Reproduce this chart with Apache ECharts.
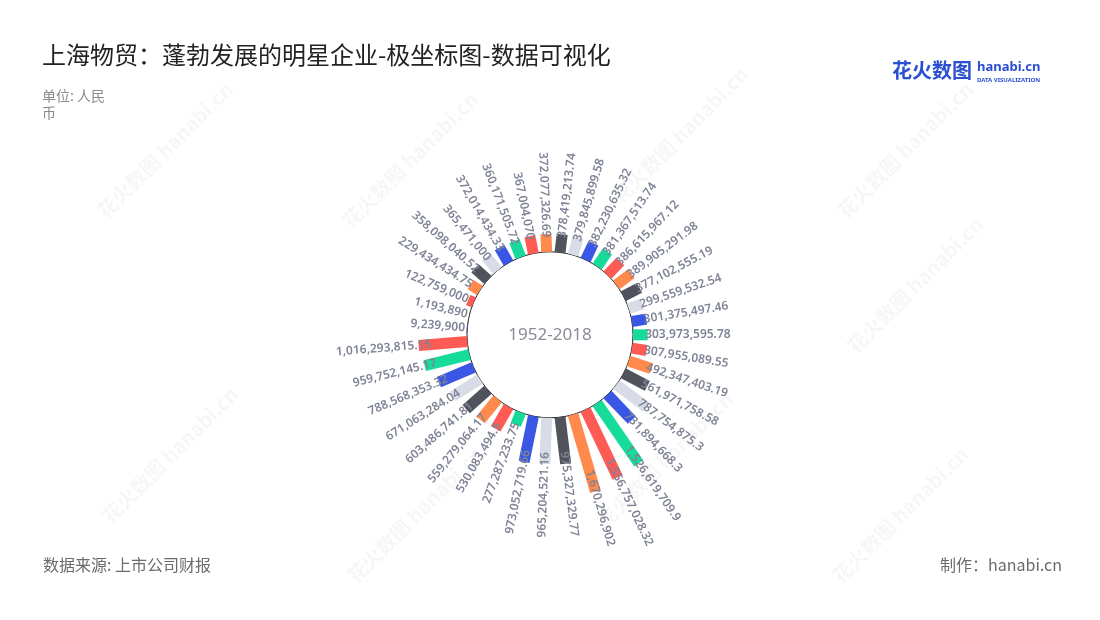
<!DOCTYPE html>
<html>
<head>
<meta charset="utf-8">
<script src="https://cdn.jsdelivr.net/npm/echarts@6/dist/echarts.min.js"></script>
<style>html,body{margin:0;padding:0;background:#fff}#main{width:1100px;height:620px}</style>
</head>
<body>
<div id="main"></div>
<script>
// ---- data (clockwise, starting at 9 o'clock) ----
const values = [9239900, 1193890, 122759000, 229434434.75, 358098040.52, 365471000,
  372014434.33, 360171505.72, 367004070, 372077326.69, 378419213.74, 379845899.58,
  382230635.32, 381367513.74, 386615967.12, 389905291.98, 377102555.19, 299559532.54,
  301375497.46, 303973595.78, 307955089.55, 492347403.19, 561971758.58, 787754875.3,
  731894668.3, 1526619709.9, 1556757028.32, 1670296902, 975327329.77, 965204521.16,
  973052719.66, 277287233.75, 530083494.5, 559279064.17, 603486741.81, 671063284.04,
  788568353.32, 959752145.17, 1016293815.15];
const labels = ['9,239,900', '1,193,890', '122,759,000', '229,434,434.75', '358,098,040.52', '365,471,000',
  '372,014,434.33', '360,171,505.72', '367,004,070', '372,077,326.69', '378,419,213.74', '379,845,899.58',
  '382,230,635.32', '381,367,513.74', '386,615,967.12', '389,905,291.98', '377,102,555.19', '299,559,532.54',
  '301,375,497.46', '303,973,595.78', '307,955,089.55', '492,347,403.19', '561,971,758.58', '787,754,875.3',
  '731,894,668.3', '1,526,619,709.9', '1,556,757,028.32', '1,670,296,902', '975,327,329.77', '965,204,521.16',
  '973,052,719.66', '277,287,233.75', '530,083,494.5', '559,279,064.17', '603,486,741.81', '671,063,284.04',
  '788,568,353.32', '959,752,145.17', '1,016,293,815.15'];
const categories = values.map((_, i) => 'c' + i);
const palette = ['#3a56e4', '#17db9b', '#ff5b55', '#ff8a4c', '#50525c', '#d8dce6'];
const centerLabel = '1952-2018';
const titleText = '上海物贸：蓬勃发展的明星企业-极坐标图-数据可视化';
const unitText = '单位: 人民\n币';
const sourceText = '数据来源: 上市公司财报';
const makerText = '制作：hanabi.cn';

const FONT = "'Noto Sans', 'Noto Sans CJK SC', sans-serif";
const CJK = "'Noto Sans CJK SC', 'Noto Sans', sans-serif";
const chart = echarts.init(document.getElementById('main'), null, {renderer: 'canvas'});

const seriesData = values.map((v, i) => [v, i]);

function renderItem(params, api) {
  const v = api.value(0);
  const idx = api.value(1);
  const cs = params.coordSys;
  const p0 = api.coord([0, idx]);
  const p1 = api.coord([v, idx]);
  const pl = api.coord([v * 0.7 + 40000000, idx]);
  const theta = Math.atan2(cs.cy - p0[1], p0[0] - cs.cx);
  const right = Math.cos(theta) >= 0;
  const color = palette[idx % palette.length];
  return {
    type: 'group',
    children: [
      {
        type: 'line',
        shape: {x1: p0[0], y1: p0[1], x2: p1[0], y2: p1[1]},
        style: {stroke: color, lineWidth: 11, lineCap: 'butt'},
        z2: 1
      },
      {
        type: 'text',
        x: pl[0], y: pl[1],
        rotation: right ? theta : theta - Math.PI,
        style: {
          text: labels[idx],
          fill: '#7f8396',
          font: '600 12px ' + FONT,
          align: right ? 'left' : 'right',
          verticalAlign: 'middle'
        },
        z2: 10
      }
    ]
  };
}

const wm = [[165, 150], [410, 160], [680, 135], [905, 150], [915, 285], [170, 455], [415, 515], [665, 460], [900, 515]];
const graphics = [];
wm.forEach(p => {
  graphics.push({
    type: 'text', x: p[0], y: p[1], rotation: Math.PI / 4, silent: true, z: -10,
    style: {text: '花火数图 hanabi.cn', fill: 'rgba(0,0,0,0.035)', font: 'bold 20px ' + CJK, align: 'center', verticalAlign: 'middle'}
  });
});
graphics.push(
  {type: 'text', left: 42, top: 87, style: {text: unitText, fill: '#8a8a8a', font: '14px ' + CJK, lineHeight: 17}},
  {type: 'text', left: 43, top: 557, style: {text: sourceText, fill: '#6b6b6b', font: '16px ' + CJK}},
  {type: 'text', right: 38, top: 557, style: {text: makerText, fill: '#6b6b6b', font: '16px ' + CJK}},
  {type: 'text', left: 892, top: 60, style: {text: '花火数图', fill: '#2a4fd2', font: 'bold 20px ' + CJK}},
  {type: 'text', left: 977, top: 61, style: {text: 'hanabi.cn', fill: '#2a4fd2', font: 'bold 13px ' + FONT}},
  {type: 'text', left: 977, top: 77, style: {text: 'DATA VISUALIZATION', fill: '#2a4fd2', font: 'bold 6px ' + FONT}}
);

const option = {
  backgroundColor: '#fff',
  animation: false,
  title: {
    text: titleText, left: 37, top: 38,
    textStyle: {fontSize: 24, fontWeight: 'normal', color: '#222', fontFamily: CJK}
  },
  polar: {center: ['50%', '54%'], radius: [83, 179]},
  angleAxis: {
    type: 'category', data: categories, startAngle: 180, clockwise: true,
    axisLine: {show: false}, axisTick: {show: false}, axisLabel: {show: false}, splitLine: {show: false}
  },
  radiusAxis: {
    type: 'value', min: 0, max: 2000000000,
    axisLine: {show: false}, axisTick: {show: false}, axisLabel: {show: false}, splitLine: {show: false}
  },
  graphic: graphics,
  series: [
    {
      type: 'pie', center: ['50%', '54%'], radius: [0, 83], silent: true, z: 1,
      itemStyle: {color: '#fff', borderColor: '#222', borderWidth: 1},
      label: {show: true, position: 'center', formatter: '{b}', fontSize: 17, color: '#8a8a98', fontFamily: FONT},
      labelLine: {show: false},
      emphasis: {disabled: true},
      data: [{value: 1, name: centerLabel}]
    },
    {
      type: 'custom', coordinateSystem: 'polar', z: 3,
      renderItem: renderItem,
      encode: {radius: 0, angle: 1},
      data: seriesData
    }
  ]
};
chart.setOption(option);
</script>
</body>
</html>
